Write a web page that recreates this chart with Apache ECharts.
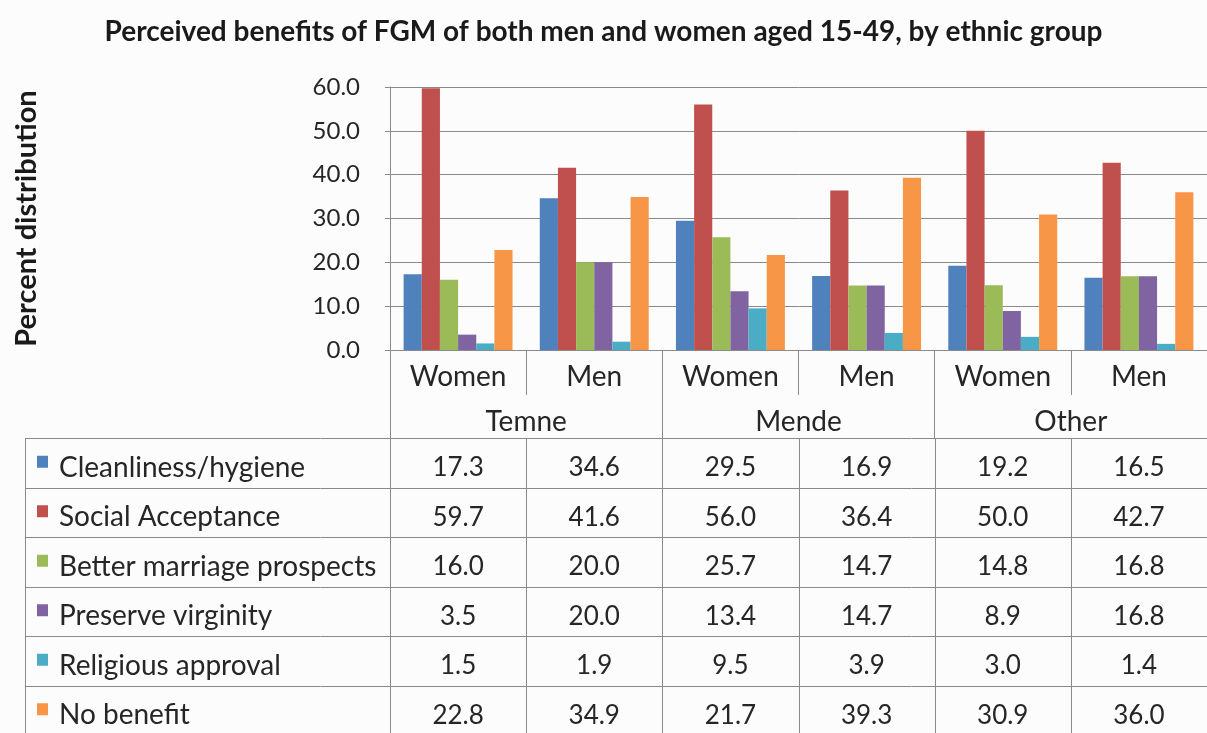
<!DOCTYPE html>
<html>
<head>
<meta charset="utf-8">
<script src="https://cdn.jsdelivr.net/npm/echarts@6/dist/echarts.min.js"></script>
<style>
html,body{margin:0;padding:0;background:#fcfcfc;}
#chart{width:1207px;height:733px;}
</style>
</head>
<body>
<div id="chart"></div>
<script>
const titleText = 'Perceived benefits of FGM of both men and women aged 15-49, by ethnic group';
const yAxisName = 'Percent distribution';
const categories = ['Women','Men','Women','Men','Women','Men'];
const groups = ['Temne','Mende','Other'];
const seriesNames = ['Cleanliness/hygiene','Social Acceptance','Better marriage prospects','Preserve virginity','Religious approval','No benefit'];
const cleanliness = [17.3,34.6,29.5,16.9,19.2,16.5];
const social = [59.7,41.6,56.0,36.4,50.0,42.7];
const marriage = [16.0,20.0,25.7,14.7,14.8,16.8];
const virginity = [3.5,20.0,13.4,14.7,8.9,16.8];
const religious = [1.5,1.9,9.5,3.9,3.0,1.4];
const noBenefit = [22.8,34.9,21.7,39.3,30.9,36.0];
const yTicks = [0,10,20,30,40,50,60];

const seriesValues = [cleanliness, social, marriage, virginity, religious, noBenefit];
const colors = ['#4F81BD','#C0504D','#9BBB59','#8064A2','#4BACC6','#F79646'];
const FONT = 'Lato';
const TXT = '#262626';
const LINE = '#8a8a8a';

const chart = echarts.init(document.getElementById('chart'), null, {renderer:'canvas'});

const option = {
  backgroundColor: '#fcfcfc',
  animation: false,
  color: colors,
  title: {
    text: titleText, left: 'center', top: 13,
    textStyle: {fontFamily: FONT, fontSize: 28, fontWeight: 'bold', color: '#1a1a1a'}
  },
  grid: {left: 390, right: -7, top: 87, bottom: 383, containLabel: false},
  xAxis: [
    {
      type: 'category', data: categories, position: 'bottom',
      axisLine: {show: true, lineStyle: {color: LINE}},
      axisTick: {show: true, length: 45, lineStyle: {color: LINE}},
      axisLabel: {margin: 13, fontFamily: FONT, fontSize: 28, color: TXT, interval: 0}
    },
    {
      type: 'category', data: groups, position: 'bottom',
      axisLine: {show: false},
      axisTick: {show: true, length: 88, lineStyle: {color: LINE}},
      axisLabel: {margin: 58, fontFamily: FONT, fontSize: 28, color: TXT, interval: 0}
    }
  ],
  yAxis: {
    type: 'value', min: yTicks[0], max: yTicks[yTicks.length-1], interval: 10,
    name: yAxisName, nameLocation: 'middle', nameRotate: 90, nameGap: 349,
    nameTextStyle: {fontFamily: FONT, fontSize: 29, fontWeight: 'bold', color: '#1a1a1a'},
    axisLine: {show: true, lineStyle: {color: LINE}},
    axisTick: {show: true, length: 5, lineStyle: {color: LINE}},
    splitLine: {show: true, lineStyle: {color: LINE, width: 1}},
    axisLabel: {margin: 30, fontFamily: FONT, fontSize: 24, color: TXT,
      formatter: v => v.toFixed(1)}
  },
  series: seriesNames.map((name, i) => ({
    name, type: 'bar', xAxisIndex: 0, data: seriesValues[i],
    barGap: '0%', barCategoryGap: '20%',
    itemStyle: {color: colors[i]}
  }))
};
chart.setOption(option);

// Data table under the chart, built from the same arrays and the axis positions
const centers = categories.map((c, i) => chart.convertToPixel({xAxisIndex: 0}, i));
const catW = centers[1] - centers[0];
const tableTop = 438, rowH = 49.5, tableLeft = 25, labelRight = centers[0] - catW/2;
const rightEdge = centers[centers.length-1] + catW/2;
const els = [];
const lineStyle = {stroke: LINE, lineWidth: 1};
const nRows = seriesNames.length;
for (let r = 0; r <= nRows; r++) {
  const y = Math.round(tableTop + r*rowH) + 0.5;
  els.push({type:'line', shape:{x1: tableLeft, y1: y, x2: rightEdge, y2: y}, style: lineStyle, silent: true});
}
const bottomY = tableTop + nRows*rowH;
const vxs = [tableLeft, labelRight].concat(centers.map(c => c + catW/2));
vxs.forEach(x => {
  const xx = Math.round(x) + 0.5;
  els.push({type:'line', shape:{x1: xx, y1: tableTop, x2: xx, y2: bottomY}, style: lineStyle, silent: true});
});
seriesNames.forEach((name, r) => {
  const cy = tableTop + r*rowH + rowH/2 + 5;
  els.push({type:'rect', shape:{x: 37, y: cy - 12, width: 11, height: 12}, style:{fill: colors[r]}, silent: true});
  els.push({type:'text', x: 59, y: cy, style:{text: name, fontFamily: FONT, fontSize: 28, fill: TXT, verticalAlign: 'middle', align: 'left'}, silent: true});
  seriesValues[r].forEach((v, c) => {
    els.push({type:'text', x: centers[c], y: cy, style:{text: v.toFixed(1), fontFamily: FONT, fontSize: 26, fill: TXT, verticalAlign: 'middle', align: 'center'}, silent: true});
  });
});
chart.setOption({graphic: {elements: els}});
</script>
</body>
</html>
